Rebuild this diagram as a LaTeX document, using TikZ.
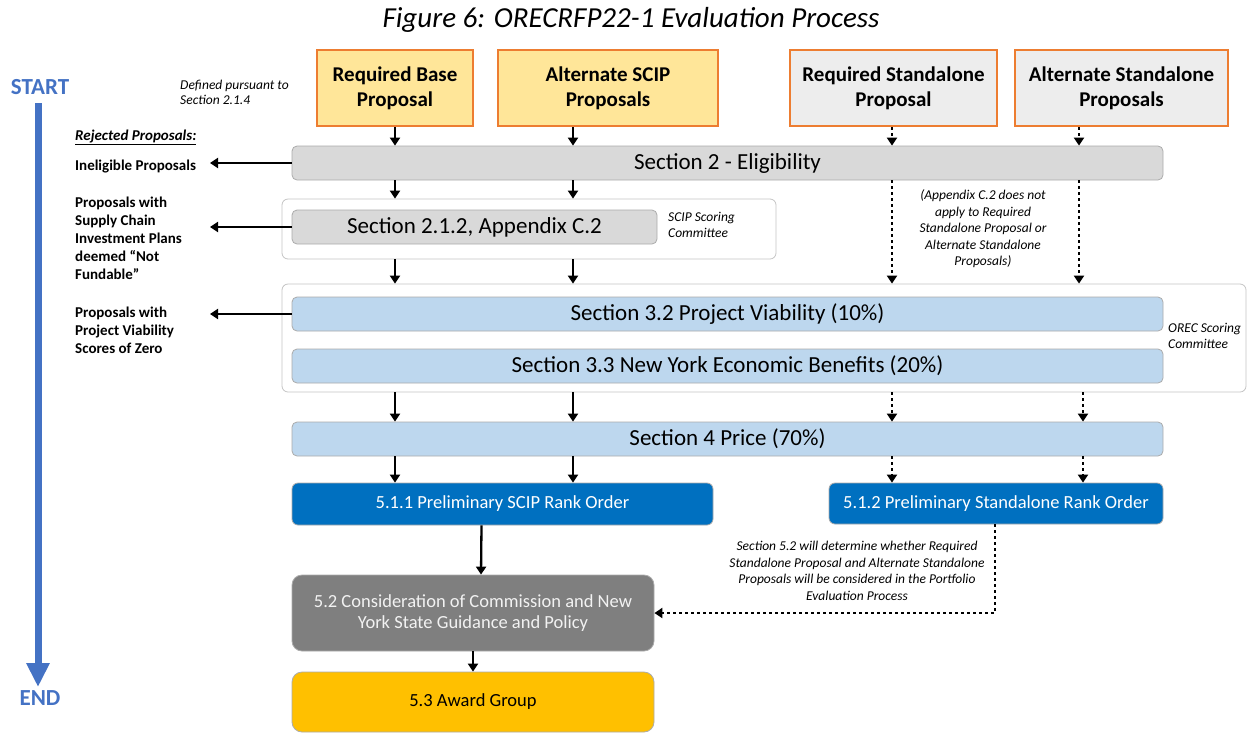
\documentclass[tikz,border=0pt]{standalone}
\usepackage{fontspec}
\setmainfont{Carlito}
\usetikzlibrary{arrows.meta}
\definecolor{propyel}{HTML}{FFE699}
\definecolor{propgray}{HTML}{EDEDED}
\definecolor{proporange}{HTML}{ED7D31}
\definecolor{secgray}{HTML}{D9D9D9}
\definecolor{seclblue}{HTML}{BDD7EE}
\definecolor{rankblue}{HTML}{0070C0}
\definecolor{considgray}{HTML}{7F7F7F}
\definecolor{awardgold}{HTML}{FFC000}
\definecolor{startblue}{HTML}{4472C4}
\definecolor{edgegray}{HTML}{ABABAB}

\begin{document}
\begin{tikzpicture}[x=1pt,y=-1pt,
    prop/.style={draw=proporange,line width=2.5pt,inner sep=0pt,align=center,
      minimum height=76pt,font=\fontsize{21}{25}\selectfont\bfseries},
    sec/.style={draw=edgegray,line width=0.8pt,rounded corners=5pt,inner sep=0pt,
      minimum width=871pt,minimum height=34pt,font=\fontsize{23}{26}\selectfont},
    grp/.style={draw=edgegray!70,line width=0.8pt,rounded corners=6pt,fill=white},
    rank/.style={draw=edgegray,line width=0.8pt,rounded corners=6pt,inner sep=0pt,
      fill=rankblue,text=white,font=\fontsize{18.5}{21}\selectfont},
    note/.style={inner sep=0pt,align=center,font=\fontsize{13.5}{16.5}\selectfont\itshape},
    rej/.style={inner sep=0pt,anchor=west,align=left,font=\fontsize{15}{18}\selectfont\bfseries},
    arr/.style={line width=2.3pt,-{Triangle[width=10pt,length=8pt]}},
    darr/.style={arr,dash pattern=on 3pt off 3pt}]

  \useasboundingbox (0,0) rectangle (1249,732);

  \node (ti) at (631,20) {\fontsize{29}{32}\selectfont\itshape Figure 6: ORECRFP22-1 Evaluation Process};

  \node (st) at (40,87) {\fontsize{23}{25}\selectfont\bfseries\color{startblue}START};
  \node (en) at (40,698) {\fontsize{23}{25}\selectfont\bfseries\color{startblue}END};
  \draw[startblue,line width=7pt,-{Triangle[width=22pt,length=24pt]}] (st.south) ++(-2,5) coordinate (sa0) -- (sa0 |- en.north) ;

  \node[note,anchor=west,align=left,font=\fontsize{13.5}{15}\selectfont\itshape] (dp) at (180,92) {Defined pursuant to\\Section 2.1.4};

  \node[prop,fill=propyel,minimum width=156pt] (bp) at (395,88) {Required Base\\Proposal};
  \node[prop,fill=propyel,minimum width=220pt] (ap) at (608,88) {Alternate SCIP\\Proposals};
  \node[prop,fill=propgray,minimum width=207pt] (sp) at (893.5,88) {Required Standalone\\Proposal};
  \node[prop,fill=propgray,minimum width=213pt] (asp) at (1121.5,88) {Alternate Standalone\\Proposals};

  \node[sec,fill=secgray] (el) at (727.5,163) {Section 2 - Eligibility};

  \node[grp,minimum width=494pt,minimum height=60pt] (sc) at (529,229) {};
  \node[sec,fill=secgray,minimum width=365pt] (sa) at (474.5,227) {Section 2.1.2, Appendix C.2};
  \node[note,anchor=west,align=left] (scl) at (668,225) {SCIP Scoring\\Committee};
  \node[note] (apn) at (983,229) {(Appendix C.2 does not\\apply to Required\\Standalone Proposal or\\Alternate Standalone\\Proposals)};

  \node[grp,minimum width=964pt,minimum height=108pt] (oc) at (764,338) {};
  \node[sec,fill=seclblue] (pv) at (727.5,314) {Section 3.2 Project Viability (10\%)};
  \node[sec,fill=seclblue] (ny) at (727.5,366) {Section 3.3 New York Economic Benefits (20\%)};
  \node[note,anchor=west,align=left] (ocl) at (1168,336) {OREC Scoring\\Committee};

  \node[sec,fill=seclblue] (pr) at (727.5,439) {Section 4 Price (70\%)};

  \node[rank,minimum width=421pt,minimum height=42pt] (so) at (502.5,504) {5.1.1 Preliminary SCIP Rank Order};
  \node[rank,minimum width=334pt,minimum height=41pt] (sro) at (996,503.5) {5.1.2 Preliminary Standalone Rank Order};
  \node[note] (cnn) at (857,571) {Section 5.2 will determine whether Required\\Standalone Proposal and Alternate Standalone\\Proposals will be considered in the Portfolio\\Evaluation Process};

  \node[rank,fill=considgray,text=black!5,align=center,minimum width=362pt,minimum height=76pt,rounded corners=10pt] (cn) at (473,613) {5.2 Consideration of Commission and New\\York State Guidance and Policy};
  \node[rank,fill=awardgold,text=black,minimum width=362pt,minimum height=60pt,rounded corners=10pt] (aw) at (473,702) {5.3 Award Group};

  \node[rej] (rp) at (75,137) {\itshape\underline{Rejected Proposals:}};
  \node[rej] (ie) at (75,167) {Ineligible Proposals};
  \node[rej] (nf) at (75,238) {Proposals with\\Supply Chain\\Investment Plans\\deemed “Not\\Fundable”};
  \node[rej] (vz) at (75,330) {Proposals with\\Project Viability\\Scores of Zero};

  \coordinate (ca) at (395,0);
  \coordinate (cb) at (573,0);
  \coordinate (cc) at (892,0);
  \coordinate (cd) at (1079,0);
  \coordinate (ce) at (1083,0);
  \coordinate (lt) at (210,0);

  \draw[arr] (bp.south -| ca) -- (el.north -| ca);
  \draw[arr] (ap.south -| cb) -- (el.north -| cb);
  \draw[darr] (sp.south -| cc) -- (el.north -| cc);
  \draw[darr] (asp.south -| cd) -- (el.north -| cd);

  \draw[arr] (el.south -| ca) -- (sc.north -| ca);
  \draw[arr] (el.south -| cb) -- (sc.north -| cb);
  \draw[darr] (el.south -| cc) -- (oc.north -| cc);
  \draw[darr] (el.south -| cd) -- (oc.north -| cd);

  \draw[arr] (sc.south -| ca) -- (oc.north -| ca);
  \draw[arr] (sc.south -| cb) -- (oc.north -| cb);

  \draw[arr] (oc.south -| ca) -- (pr.north -| ca);
  \draw[arr] (oc.south -| cb) -- (pr.north -| cb);
  \draw[darr] (oc.south -| cc) -- (pr.north -| cc);
  \draw[darr] (oc.south -| ce) -- (pr.north -| ce);

  \draw[arr] (pr.south -| ca) -- (so.north -| ca);
  \draw[arr] (pr.south -| cb) -- (so.north -| cb);
  \draw[darr] (pr.south -| cc) -- (sro.north -| cc);
  \draw[darr] (pr.south -| ce) -- (sro.north -| ce);

  \draw[arr] ([xshift=-21pt]so.south) -- ([xshift=8pt]cn.north);
  \draw[darr] ([xshift=-1pt]sro.south) |- (cn.east);
  \draw[arr] (cn.south) -- (aw.north);

  \draw[arr] (el.west) -- (el.west -| lt);
  \draw[arr] (sa.west) -- (sa.west -| lt);
  \draw[arr] (pv.west) -- (pv.west -| lt);

\end{tikzpicture}
\end{document}
